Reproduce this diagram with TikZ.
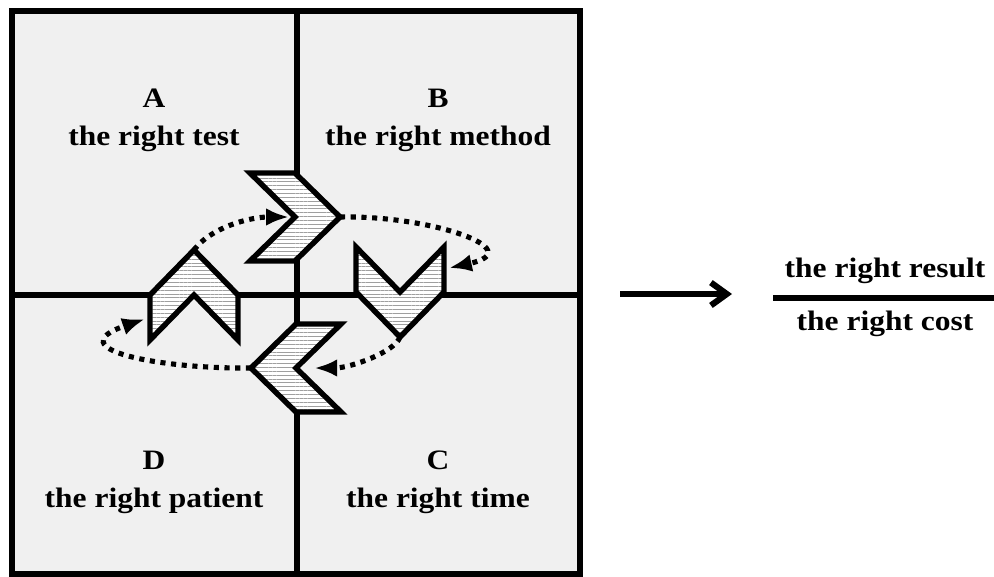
\documentclass[tikz,border=0pt]{standalone}
\usepackage{fontspec}
\usetikzlibrary{arrows.meta,patterns.meta}
\newfontfamily\labelfont[FakeStretch=1.12]{Liberation Serif}
\newcommand\Chevron[3]{%
    \begin{scope}[shift={#1},rotate=#2]
        \coordinate (#3-tip) at (45,0);
        \coordinate (#3-a) at (0,44);
        \coordinate (#3-b) at (-45,44);
        \coordinate (#3-notch) at (0,0);
        \coordinate (#3-c) at (-45,-44);
        \coordinate (#3-d) at (0,-44);
        \coordinate (#3-in) at (-6,0);
        \coordinate (#3-side) at (-24,-49);
    \end{scope}
    \draw[chevron] (#3-tip) -- (#3-a) -- (#3-b) -- (#3-notch) -- (#3-c) -- (#3-d) -- cycle;%
}

\begin{document}
\begin{tikzpicture}[x=0.02cm,y=-0.02cm,
    quad/.style={fill={rgb,255:red,240;green,240;blue,240}},
    rule/.style={line width=3.4pt},
    chevron/.style={draw,line width=3.1pt,line join=miter,preaction={fill=white},
        pattern={Lines[angle=0,distance=2.2pt,line width=0.35pt]},pattern color=gray!75},
    loop/.style={line width=2.9pt,dash pattern=on 2.9pt off 3.2pt,-{Latex[length=13pt,width=10pt]}},
    txt/.style={font=\labelfont\bfseries\fontsize{16}{21.6}\selectfont,align=center,inner sep=0pt}]
\useasboundingbox (0,0) rectangle (994,576);
\fill[quad] (12,11) rectangle (580,574);
\coordinate (top) at (297,11);
\coordinate (bottom) at (297,574);
\coordinate (left) at (12,295);
\coordinate (right) at (580,295);
\draw[rule] (top) -- (bottom);
\draw[rule] (left) -- (right);
\node[txt] (qa) at (154,120) {A\\the right test};
\node[txt] (qb) at (438,120) {B\\the right method};
\node[txt] (qd) at (154,482) {D\\the right patient};
\node[txt] (qc) at (438,482) {C\\the right time};
\Chevron{(295,217)}{0}{east}
\Chevron{(400,292)}{-90}{south}
\Chevron{(296,368)}{180}{west}
\Chevron{(194,295)}{90}{north}
\draw[loop] (north-tip) .. controls +(16,-22) and +(-40,0) .. (east-in);
\draw[loop] (east-tip) .. controls +(90,-2) and +(82,-18) .. (south-side);
\draw[loop,shorten >=7pt] (south-tip) .. controls +(-5,15) and +(48,0) .. (west-in);
\draw[loop] (west-tip) .. controls +(-92,1) and +(-88,30) .. (north-side);
\draw[rule] (12,11) rectangle (580,574);
\coordinate (go) at (620,294);
\coordinate (goal) at (732,294);
\draw[line width=3.5pt,-{Straight Barb[length=9pt,width=13pt]}] (go) -- (goal);
\node[txt,anchor=base] (result) at (885,277) {the right result};
\node[txt,anchor=base] (cost) at (885,330) {the right cost};
\coordinate (barl) at (773,298);
\coordinate (barr) at (994,298);
\draw[line width=2.9pt] (barl) -- (barr);
\end{tikzpicture}
\end{document}
